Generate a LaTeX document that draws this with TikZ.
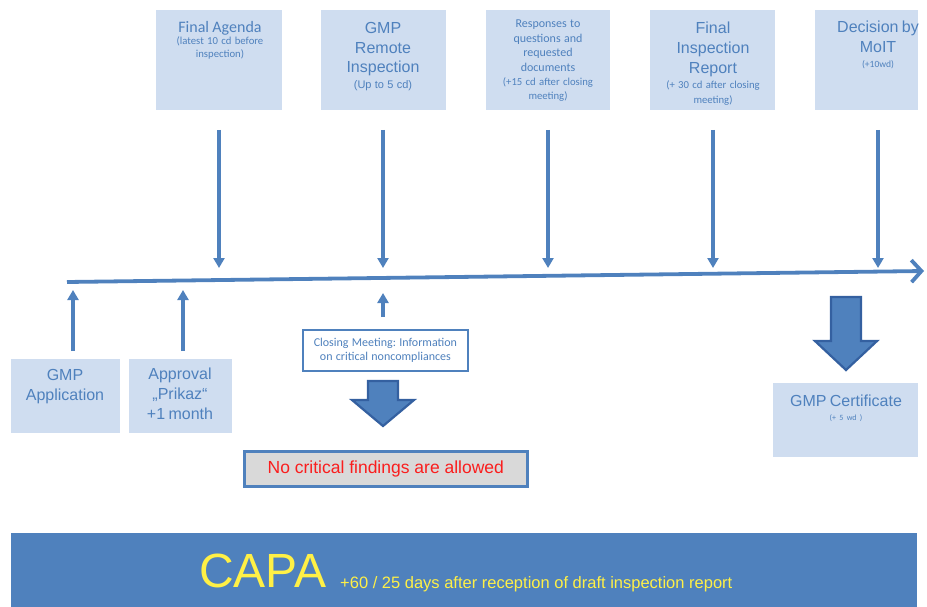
\documentclass[tikz,border=0pt]{standalone}
\usepackage{fontspec}
\setmainfont{Liberation Sans}
\newfontfamily\calfont{Carlito}
\newcommand\bigtxt{\fontsize{16}{20}\selectfont}
\usetikzlibrary{arrows.meta}
\definecolor{tblue}{RGB}{79,129,189}
\definecolor{lblue}{RGB}{207,221,240}
\definecolor{dblue}{RGB}{52,96,160}
\definecolor{capay}{RGB}{255,240,70}
\definecolor{gfill}{RGB}{217,217,217}
\definecolor{redt}{RGB}{250,30,30}
\frenchspacing
\begin{document}
\begin{tikzpicture}[x=1pt,y=-1pt,
  box/.style={fill=lblue,draw=none,inner sep=0,anchor=north west},
  lbl/.style={text=tblue,align=center,inner sep=0,anchor=north,text width=#1},
  lbl/.default=124,
  darrow/.style={draw=tblue,line width=3.2pt,-{Triangle[length=10pt,width=11pt]}},
  blockarrow/.style={fill=tblue,draw=dblue,line width=2.2pt,line join=miter},
  timeline/.style={draw=tblue,line width=3.8pt,-{Straight Barb[length=10pt,width=22pt,line width=3.8pt]}}
]
\useasboundingbox (0,0) rectangle (927,607);

% ---- top boxes
\node[box,minimum width=126,minimum height=100] (b1) at (156,10) {};
\node[box,minimum width=125,minimum height=100] (b2) at (321,10) {};
\node[box,minimum width=124,minimum height=100] (b3) at (486,10) {};
\node[box,minimum width=125,minimum height=100] (b4) at (650,10) {};
\node[box,minimum width=103,minimum height=100] (b5) at (815,10) {};

\node[lbl] (l1) at (220,21) {\calfont\fontsize{16}{21}\selectfont Final Agenda\par
  \fontsize{10.7}{12.5}\selectfont (latest 10 cd before\\inspection)\par};
\node[lbl] (l2) at (383,22) {\fontsize{16}{19.8}\selectfont GMP\\Remote\\Inspection\par
  \fontsize{11}{16}\selectfont (Up to 5 cd)\par};
\node[lbl] (l3) at (548,20) {\calfont\fontsize{12}{14.5}\selectfont Responses to\\questions and\\requested\\documents\par
  \fontsize{10.7}{14}\selectfont (+15 cd after closing\\meeting)\par};
\node[lbl] (l4) at (713,22) {\fontsize{16}{19.8}\selectfont Final\\Inspection\\Report\par
  \calfont\fontsize{10.7}{15}\selectfont (+ 30 cd after closing\\meeting)\par};
\node[lbl=110] (l5) at (878,21) {\fontsize{16}{19.8}\selectfont Decision by\\MoIT\par
  \calfont\fontsize{9.5}{15}\selectfont (+10wd)\par};

% ---- timeline
\coordinate (tl0) at (67,282);
\coordinate (tl1) at (924,271);
\draw[timeline] (tl0) -- (tl1);

% ---- down arrows
\foreach \i/\x in {1/219,2/383,3/548,4/713,5/878}{
  \coordinate (ds\i) at (\x,130);
  \coordinate (de\i) at (\x,268);
  \draw[darrow] (ds\i) -- (de\i);
}

% ---- bottom left boxes
\node[box,minimum width=109,minimum height=74] (g1) at (11,359) {};
\node[box,minimum width=103,minimum height=74] (g2) at (129,359) {};
\node[lbl=105] (gl1) at (65,369) {\bigtxt GMP\\Application\par};
\node[lbl=100] (gl2) at (180,368) {\bigtxt Approval\\„Prikaz“\\+1 month\par};

\coordinate (us1) at (73,351);
\coordinate (ue1) at (73,290);
\coordinate (us2) at (183,351);
\coordinate (ue2) at (183,290);
\draw[darrow] (us1) -- (ue1);
\draw[darrow] (us2) -- (ue2);

% ---- closing meeting
\node[draw=tblue,line width=1.8pt,fill=white,minimum width=165,minimum height=41,inner sep=0,anchor=north west] (cm) at (302,329) {};
\node[lbl=162,anchor=center] (cml) at (cm.center) {\calfont\fontsize{12}{14}\selectfont Closing Meeting: Information\\on critical noncompliances\par};
\coordinate (cs) at (383,317);
\coordinate (cu) at (383,293);
\draw[darrow] (cs) -- (cu);

\draw[blockarrow] (368,381) -- (398,381) -- (398,400) -- (414,400) -- (383,426) -- (352,400) -- (368,400) -- cycle;

\node[draw=tblue,line width=2.6pt,fill=gfill,minimum width=283,minimum height=35,inner sep=0,anchor=north west] (nc) at (243,450) {};
\node[text=redt,font=\fontsize{17.5}{20}\selectfont,inner sep=0] (ncl) at (nc.center) {No critical findings are allowed};

% ---- GMP certificate
\draw[blockarrow] (831,297) -- (861,297) -- (861,341) -- (877,341) -- (846,370) -- (815,341) -- (831,341) -- cycle;
\node[box,minimum width=145,minimum height=74] (gc) at (773,383) {};
\node[lbl=140] (gcl) at (846,395) {\bigtxt GMP Certificate\par\calfont\fontsize{8}{14}\selectfont (+ 5 wd )\par};

% ---- CAPA band
\node[fill=tblue,minimum width=906,minimum height=74,inner sep=0,anchor=north west] (capa) at (11,533) {};
\node[text=capay,font=\fontsize{48}{50}\selectfont,inner sep=0,anchor=base west] (capat) at (199,587.5) {CAPA};
\node[text=capay,font=\fontsize{16.5}{18}\selectfont,inner sep=0,anchor=base west] (capas) at (340,588) {+60 / 25 days after reception of draft inspection report};
\end{tikzpicture}
\end{document}
